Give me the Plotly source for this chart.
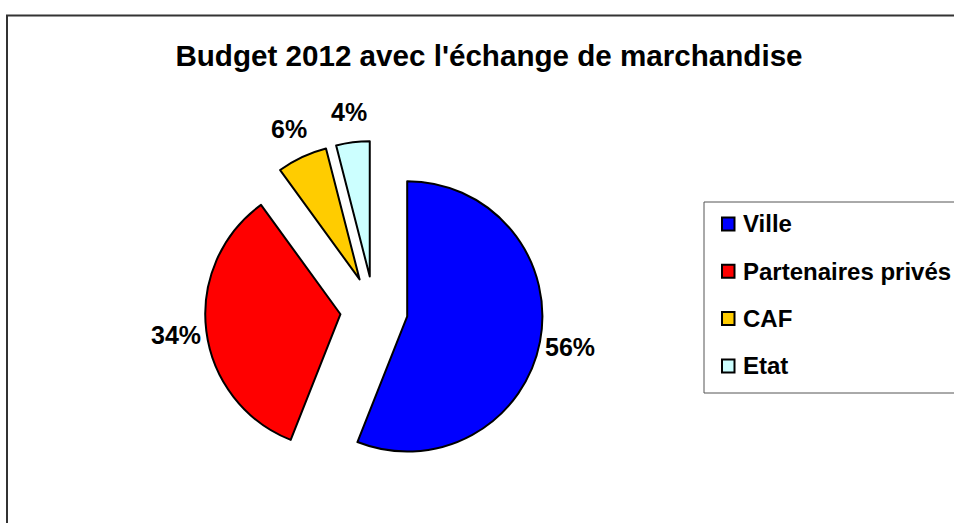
import math
import plotly.graph_objects as go

W, H = 954, 523

# Data
labels = ["Ville", "Partenaires privés", "CAF", "Etat"]
values = [56, 34, 6, 4]
colors = ["#0000FF", "#FF0000", "#FFCC00", "#CCFFFF"]
title_text = "Budget 2012 avec l'échange de marchandise"

FONT = "Arial, Liberation Sans, sans-serif"
PULL = 0.25

def px_x(x):
    return x / W

def px_y(y):
    return 1 - y / H

# pie box (pixels)
BOX_L, BOX_R, BOX_T, BOX_B = 205, 543, 141, 479
CX, CY = (BOX_L + BOX_R) / 2, (BOX_T + BOX_B) / 2
R = min(BOX_R - BOX_L, BOX_B - BOX_T) / (2 + 2 * PULL)

fig = go.Figure()
fig.add_trace(go.Pie(
    labels=labels,
    values=values,
    sort=False,
    direction="clockwise",
    rotation=0,
    pull=[PULL] * len(values),
    marker=dict(colors=colors, line=dict(color="#000000", width=2)),
    textinfo="none",
    showlegend=False,
    hoverinfo="skip",
    domain=dict(x=[px_x(BOX_L), px_x(BOX_R)], y=[px_y(BOX_B), px_y(BOX_T)]),
))

shapes = []
annotations = []

# percentage labels placed outside each slice along its mid-angle
total = sum(values)
cum = 0.0
label_r = R * (1 + PULL) + 31
for v in values:
    mid = (cum + v / 2) / total * 2 * math.pi
    cum += v
    lx = CX + label_r * math.sin(mid)
    ly = CY - label_r * math.cos(mid)
    annotations.append(dict(text=f"{round(100 * v / total)}%", xref="paper", yref="paper",
                            x=px_x(lx), y=px_y(ly), xanchor="center", yanchor="middle",
                            showarrow=False,
                            font=dict(family=FONT, size=25, color="#000000", weight="bold")))

# outer chart frame
shapes.append(dict(type="rect", xref="paper", yref="paper",
                   x0=px_x(7), x1=1.05, y0=-0.05, y1=px_y(15.5),
                   line=dict(color="#333333", width=2), fillcolor="rgba(0,0,0,0)"))

# legend box
shapes.append(dict(type="rect", xref="paper", yref="paper",
                   x0=px_x(704), x1=1.05, y0=px_y(393), y1=px_y(202),
                   line=dict(color="#555555", width=1), fillcolor="rgba(0,0,0,0)"))

# legend entries
for i, (lab, col) in enumerate(zip(labels, colors)):
    yc = 224 + i * 47.3
    shapes.append(dict(type="rect", xref="paper", yref="paper",
                       x0=px_x(722), x1=px_x(734.5), y0=px_y(yc + 6.5), y1=px_y(yc - 6.5),
                       line=dict(color="#000000", width=2), fillcolor=col))
    annotations.append(dict(text=lab, xref="paper", yref="paper",
                            x=px_x(741), y=px_y(yc), xanchor="left", yanchor="middle",
                            showarrow=False,
                            font=dict(family=FONT, size=24, color="#000000", weight="bold")))

fig.update_layout(
    width=W, height=H,
    margin=dict(l=0, r=0, t=0, b=0),
    paper_bgcolor="#FFFFFF",
    plot_bgcolor="#FFFFFF",
    title=dict(text=title_text, x=489 / W, xanchor="center",
               y=1 - 56 / H, yanchor="middle", yref="container",
               font=dict(family=FONT, size=29.6, color="#000000", weight="bold")),
    shapes=shapes,
    annotations=annotations,
)

post = """
document.body.style.margin = '0';
document.body.style.padding = '0';
"""

fig.write_html("out.html", config={"displayModeBar": False}, post_script=post)
